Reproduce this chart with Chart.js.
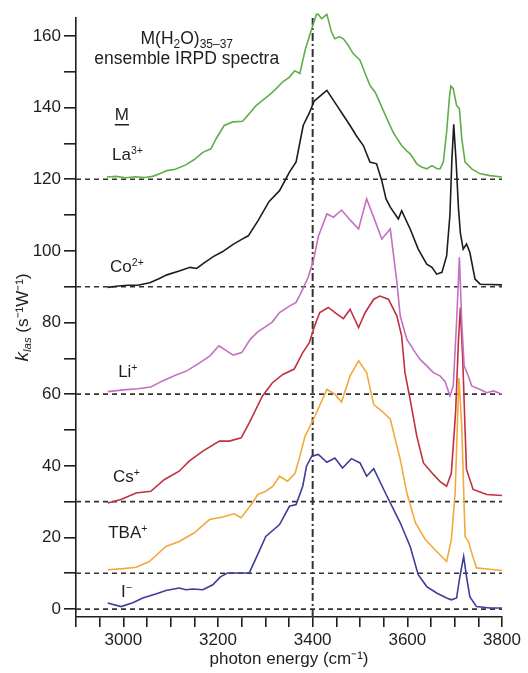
<!DOCTYPE html>
<html><head><meta charset="utf-8">
<script src="https://cdn.jsdelivr.net/npm/chart.js@4"></script>
<style>html,body{margin:0;padding:0;background:#fff}#wrap{width:528px;height:673px}</style>
</head><body><div id="wrap"><canvas id="c" width="528" height="673"></canvas></div>
<script>
// ---- data ----
const laX = [2965,2985,3005,3025,3045,3062,3078,3092,3110,3132,3150,3168,3185,3196,3213,3231,3252,3266,3280,3294,3308,3323,3337,3351,3362,3373,3384,3398,3408,3412,3419,3430,3440,3447,3456,3465,3475,3486,3500,3511,3521,3532,3540,3549,3560,3570,3580,3588,3598,3606,3620,3630,3641,3652,3662,3669,3676,3683,3689,3692,3697,3704,3710,3715,3722,3736,3754,3775,3800];
const laY = [120.6,120.8,120.4,120.7,120.5,120.8,121.6,122.4,122.8,124.0,125.5,127.5,128.5,131.3,135,136,136.2,138.3,140.5,142,143.5,145.3,147.2,148.5,150.3,149.5,156,162,166,166,164.8,166,161,159.2,159.8,159.2,157.4,155,153.2,149.5,146.2,144.3,142,139.2,136,133.1,131,129.4,128,127.1,124.3,123.4,122.9,123.8,123,122.9,124.8,133.1,143,146,145.3,140.6,139.7,131.3,124.8,122.9,121.5,121,120.6];

const coX = [2967,2990,3010,3030,3056,3075,3092,3118,3141,3155,3170,3190,3210,3232,3250,3264,3285,3308,3330,3351,3365,3380,3393,3403,3418,3430,3451,3465,3479,3493,3507,3521,3535,3546,3555,3564,3581,3588,3606,3623,3641,3652,3662,3673,3683,3690,3694,3698,3703,3708,3712,3718,3725,3732,3743,3754,3775,3800];
const coY = [89.8,90.2,90.4,90.4,91.1,92.2,93.3,94.4,95.4,95.1,96.6,98.4,99.8,101.8,103.2,104.2,108.5,113.8,116.8,122,124.8,135,138.5,141.8,143.5,144.8,140.6,137.8,135,132,129.4,124.8,124.3,119.6,114.5,112.2,108.9,111.2,106.1,100.5,96.3,95.4,93.5,94,98.6,110,125,135.3,125,112,105,100.5,101.9,99.6,92.1,90.7,90.6,90.5];

const liX = [2967,3000,3030,3058,3083,3110,3134,3162,3183,3202,3232,3250,3268,3284,3300,3315,3330,3350,3365,3379,3390,3401,3412,3430,3444,3461,3480,3497,3514,3530,3546,3564,3578,3585,3599,3617,3627,3641,3655,3669,3680,3690,3697,3704,3710,3715,3720,3729,3736,3754,3768,3782,3800];
const liY = [60.7,61.2,61.5,62,63.7,65.3,66.5,68.8,70.7,73.5,70.9,71.6,75.3,77.4,78.8,80.2,82.8,84.5,85.6,89.3,92.5,97,104,110.3,109.4,111.4,108.5,106.1,114.5,109,103.3,106.1,91.2,81.8,75.3,71.6,69.7,67.9,66,65.1,63.5,59.5,62.3,80,98.2,80,68,65,62.3,61.3,60.4,60.9,60];

const csX = [2967,2995,3027,3058,3087,3118,3139,3168,3203,3224,3249,3266,3294,3315,3337,3361,3379,3393,3404,3415,3433,3450,3465,3479,3497,3511,3529,3542,3560,3578,3588,3595,3606,3620,3634,3655,3670,3683,3693,3702,3708,3712,3717,3722,3725,3739,3768,3800];
const csY = [29.6,30.6,32.4,32.9,36.2,38.5,41.3,44.1,46.9,46.9,47.8,52,59.5,63.2,65.5,67,71.6,74.4,79,82.8,84.2,82.5,81.1,83.7,78.6,82.8,86.5,87.4,86.5,81.8,76.2,66,58.5,48.3,40.8,37.6,35.5,34.3,38,55,75,84.2,70,50,39,33.4,32,31.7];

const tbaX = [2967,3000,3027,3055,3090,3118,3150,3182,3210,3234,3249,3273,3284,3301,3316,3330,3347,3363,3373,3384,3405,3430,3447,3461,3479,3497,3514,3529,3546,3564,3585,3599,3617,3638,3662,3683,3693,3701,3709,3715,3722,3729,3736,3746,3768,3800];
const tbaY = [11,11.3,11.7,13.3,17.5,18.9,21.3,25,25.7,26.6,25.5,29.7,32,32.9,34.3,37.1,35.7,38,42.7,48.3,53.9,61.3,60,57.8,65.1,69.3,66,57.1,55.3,53,41.8,32.4,24.1,19.4,16.1,13.3,19.4,32.4,64.5,51,20.3,18.9,15.7,11.5,11.2,10.8];

const iX = [2967,2995,3020,3041,3070,3090,3118,3132,3147,3168,3189,3205,3220,3266,3283,3301,3330,3351,3365,3379,3387,3398,3412,3430,3447,3463,3482,3500,3514,3529,3557,3585,3606,3623,3641,3662,3683,3693,3704,3711,3719,3725,3732,3746,3775,3800];
const iY = [1.7,0.7,1.8,3.1,4.3,5.2,5.9,5.4,5.6,5.4,6.8,9,10.1,10.1,15,20.3,23.6,28.7,29.2,34.3,39.9,42.7,43.2,41,42.2,39.4,42,40.8,37.1,39.2,31.5,24.1,17.5,9.6,6.3,4.5,3.1,2.6,3.1,9.1,14.7,9.1,3.5,0.7,0.3,0.3];

const baselines = [0, 10, 30, 60, 90, 120];
const markerX = 3400;
const xTicks = [2900,2950,3000,3050,3100,3150,3200,3250,3300,3350,3400,3450,3500,3550,3600,3650,3700,3750,3800];
const xTickLabels = [3000, 3200, 3400, 3600, 3800];
const yTicks = [0,10,20,30,40,50,60,70,80,90,100,110,120,130,140,150,160];
const yTickLabels = [0,20,40,60,80,100,120,140,160];
const xRange = [2900, 3800];
const yRange = [-2.2, 165];

// ---- styling ----
const FONT = "'Liberation Sans', Arial, Helvetica, sans-serif";
const INK = '#1e1e1e';
const series = [
  {name:'La³⁺', x:laX, y:laY, color:'#62ad4a'},
  {name:'Co²⁺', x:coX, y:coY, color:'#1c1c1c'},
  {name:'Li⁺',  x:liX, y:liY, color:'#c470c0'},
  {name:'Cs⁺',  x:csX, y:csY, color:'#c0303f'},
  {name:'TBA⁺', x:tbaX, y:tbaY, color:'#f2a93b'},
  {name:'I⁻',   x:iX, y:iY, color:'#3d3d99'}
];

const datasets = [];
series.forEach(s => {
  datasets.push({
    label: s.name,
    data: s.x.map((v, i) => ({x: v, y: s.y[i]})),
    borderColor: s.color, borderWidth: 1.6, pointRadius: 0, tension: 0,
    fill: false, clip: 6
  });
});
baselines.forEach(b => {
  datasets.push({
    label: 'baseline ' + b,
    data: [{x: xRange[0], y: b}, {x: xRange[1], y: b}],
    borderColor: '#333', borderWidth: 1.6, borderDash: [5, 4], pointRadius: 0, fill: false
  });
});
datasets.push({
  label: 'marker',
  data: [{x: markerX, y: yRange[0]}, {x: markerX, y: yRange[1]}],
  borderColor: '#333', borderWidth: 2, borderDash: [8, 3, 2, 3], pointRadius: 0, fill: false
});

// annotation text (positions in data units)
const annotations = [
  {x:3134, y:157.8, align:'center', parts:[['M(H',17.5],['2',12,4],['O)',17.5],['35–37',12,4]]},
  {x:3134, y:152.2, align:'center', parts:[['ensemble IRPD spectra',17.5]]},
  {x:2982, y:136.6, align:'left', parts:[['M',17]], underline:true},
  {x:2976, y:125.4, align:'left', parts:[['La',17],['3+',10.5,-6]]},
  {x:2972, y:94.1, align:'left', parts:[['Co',17],['2+',10.5,-6]]},
  {x:2989, y:64.7, align:'left', parts:[['Li',17],['+',10.5,-6]]},
  {x:2978, y:35.6, align:'left', parts:[['Cs',17],['+',10.5,-6]]},
  {x:2968, y:19.9, align:'left', parts:[['TBA',17],['+',10.5,-6]]},
  {x:2995, y:3.4, align:'left', parts:[['I',17],['−',10.5,-6]]}
];

function drawRich(ctx, parts, x, y, align) {
  let w = 0;
  const m = parts.map(p => {
    ctx.font = (p[3] || '') + ' ' + p[1] + 'px ' + FONT;
    const pw = ctx.measureText(p[0]).width; w += pw; return pw;
  });
  let cx = align === 'center' ? x - w / 2 : x;
  const left = cx;
  parts.forEach((p, i) => {
    ctx.font = (p[3] || '') + ' ' + p[1] + 'px ' + FONT;
    ctx.fillText(p[0], cx, y + (p[2] || 0));
    cx += m[i];
  });
  return {left, width: w};
}

const textPlugin = {
  id: 'texts',
  afterDraw(chart) {
    const ctx = chart.ctx, xs = chart.scales.x, ys = chart.scales.y;
    ctx.save();
    ctx.fillStyle = INK; ctx.textBaseline = 'alphabetic'; ctx.textAlign = 'left';
    annotations.forEach(a => {
      const px = xs.getPixelForValue(a.x), py = ys.getPixelForValue(a.y);
      const r = drawRich(ctx, a.parts, px, py, a.align);
      if (a.underline) {
        ctx.strokeStyle = INK; ctx.lineWidth = 1.5;
        ctx.beginPath(); ctx.moveTo(r.left, py + 5); ctx.lineTo(r.left + r.width, py + 5); ctx.stroke();
      }
    });
    // y-axis title
    const cy = (chart.chartArea.top + chart.chartArea.bottom) / 2;
    ctx.translate(28, cy);
    ctx.rotate(-Math.PI / 2);
    drawRich(ctx, [['k',19,0,'italic'],['las',11.5,3,'italic'],[' (s⁻¹W⁻¹)',17]], 0, 0, 'center');
    ctx.restore();
  }
};

new Chart(document.getElementById('c'), {
  type: 'line',
  data: {datasets},
  plugins: [textPlugin],
  options: {
    responsive: false, animation: false,
    layout: {padding: {left: 0, right: 26, top: 18, bottom: 0}},
    plugins: {legend: {display: false}, tooltip: {enabled: false}},
    scales: {
      x: {
        type: 'linear', min: xRange[0], max: xRange[1],
        afterBuildTicks: s => { s.ticks = xTicks.map(v => ({value: v})); },
        afterFit: s => { s.height = 56; },
        ticks: {autoSkip: false, maxRotation: 0, padding: 3, color: INK,
          font: {family: FONT, size: 17},
          callback: v => xTickLabels.includes(v) ? String(v) : ''},
        grid: {drawOnChartArea: false, drawTicks: true, tickLength: 10, color: INK, lineWidth: 1.6},
        border: {display: true, color: INK, width: 1.6},
        title: {display: true, text: 'photon energy (cm⁻¹)', color: INK,
          font: {family: FONT, size: 17}, padding: {top: 0, bottom: 3}}
      },
      y: {
        type: 'linear', min: yRange[0], max: yRange[1],
        afterBuildTicks: s => { s.ticks = yTicks.map(v => ({value: v})); },
        afterFit: s => { s.width = 76; },
        ticks: {autoSkip: false, padding: 3, color: INK,
          font: {family: FONT, size: 17},
          callback: v => yTickLabels.includes(v) ? String(v) : ''},
        grid: {drawOnChartArea: false, drawTicks: true, tickLength: 12, color: INK, lineWidth: 1.6},
        border: {display: true, color: INK, width: 1.6}
      }
    }
  }
});
</script>
</body></html>
